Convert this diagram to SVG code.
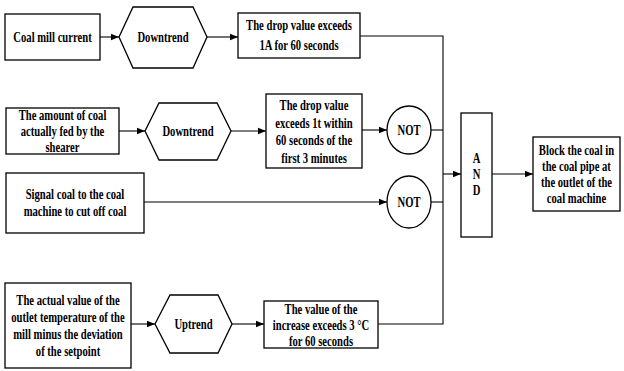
<svg xmlns="http://www.w3.org/2000/svg" width="624" height="371" viewBox="0 0 624 371">
<defs>
<style>
.b{fill:#fff;stroke:#000;stroke-width:1.3}
.c{fill:none;stroke:#000;stroke-width:1.1}
text{font-family:"Liberation Serif","Times New Roman",serif;font-weight:bold;font-size:14px;text-anchor:middle;fill:#000}
</style>
<marker id="ah" viewBox="0 0 10 10" refX="10" refY="5" markerWidth="8" markerHeight="8" markerUnits="userSpaceOnUse" orient="auto">
<path d="M0,1 L10,5 L0,9 Z" fill="#000"/>
</marker>
</defs>
<rect width="624" height="371" fill="#fff"/>
<g id="connectors">
<line class="c" x1="100" y1="37" x2="119" y2="37" marker-end="url(#ah)"/>
<line class="c" x1="207" y1="37" x2="238" y2="37" marker-end="url(#ah)"/>
<polyline class="c" points="360,36 443,36 443,324 378,324"/>
<line class="c" x1="119" y1="131" x2="145" y2="131" marker-end="url(#ah)"/>
<line class="c" x1="231" y1="131" x2="266" y2="131" marker-end="url(#ah)"/>
<line class="c" x1="362" y1="130" x2="387" y2="130" marker-end="url(#ah)"/>
<line class="c" x1="431" y1="130" x2="443" y2="130"/>
<line class="c" x1="144" y1="202" x2="387" y2="202" marker-end="url(#ah)"/>
<line class="c" x1="431" y1="202" x2="443" y2="202"/>
<line class="c" x1="131" y1="324" x2="155" y2="324" marker-end="url(#ah)"/>
<line class="c" x1="232" y1="324" x2="264" y2="324" marker-end="url(#ah)"/>
<line class="c" x1="443" y1="174" x2="461" y2="174" marker-end="url(#ah)"/>
<line class="c" x1="492" y1="174" x2="533" y2="174" marker-end="url(#ah)"/>
</g>
<g id="coal-mill-current">
<rect class="b" x="5" y="14" width="95" height="46"/>
<text transform="translate(52.5,42) scale(0.76,1)">Coal mill current</text>
</g>
<g id="downtrend-1">
<polygon class="b" points="119,37 133,7 193,7 207,37 193,68 133,68"/>
<text transform="translate(163,42) scale(0.76,1)">Downtrend</text>
</g>
<g id="drop-1a">
<rect class="b" x="238" y="13" width="122" height="45"/>
<text transform="translate(299,30) scale(0.76,1)">The drop value exceeds</text>
<text transform="translate(299,50) scale(0.76,1)">1A for 60 seconds</text>
</g>
<g id="coal-fed">
<rect class="b" x="6" y="108" width="113" height="46"/>
<text transform="translate(62.5,120) scale(0.76,1)">The amount of coal</text>
<text transform="translate(62.5,136) scale(0.76,1)">actually fed by the</text>
<text transform="translate(62.5,152) scale(0.76,1)">shearer</text>
</g>
<g id="downtrend-2">
<polygon class="b" points="145,131 159,103 217,103 231,131 217,160 159,160"/>
<text transform="translate(188,136) scale(0.76,1)">Downtrend</text>
</g>
<g id="drop-1t">
<rect class="b" x="266" y="94" width="96" height="74"/>
<text transform="translate(314,110) scale(0.76,1)">The drop value</text>
<text transform="translate(314,127.5) scale(0.76,1)">exceeds 1t within</text>
<text transform="translate(314,145) scale(0.76,1)">60 seconds of the</text>
<text transform="translate(314,162.5) scale(0.76,1)">first 3 minutes</text>
</g>
<g id="not-1">
<ellipse class="b" cx="409" cy="130" rx="22" ry="24"/>
<text transform="translate(409,135) scale(0.76,1)">NOT</text>
</g>
<g id="signal-cut-off">
<rect class="b" x="6" y="173" width="138" height="60"/>
<text transform="translate(75,199) scale(0.76,1)">Signal coal to the coal</text>
<text transform="translate(75,216) scale(0.76,1)">machine to cut off coal</text>
</g>
<g id="not-2">
<ellipse class="b" cx="409" cy="202" rx="22" ry="26"/>
<text transform="translate(409,207) scale(0.76,1)">NOT</text>
</g>
<g id="outlet-temp">
<rect class="b" x="5" y="283" width="126" height="85"/>
<text transform="translate(68,305) scale(0.76,1)">The actual value of the</text>
<text transform="translate(68,322) scale(0.76,1)">outlet temperature of the</text>
<text transform="translate(68,339) scale(0.76,1)">mill minus the deviation</text>
<text transform="translate(68,356) scale(0.76,1)">of the setpoint</text>
</g>
<g id="uptrend">
<polygon class="b" points="155,324 170,295 218,295 232,324 218,353 170,353"/>
<text transform="translate(193.5,329) scale(0.76,1)">Uptrend</text>
</g>
<g id="increase-3c">
<rect class="b" x="264" y="301" width="114" height="47"/>
<text transform="translate(321,314) scale(0.76,1)">The value of the</text>
<text transform="translate(321,330) scale(0.76,1)">increase exceeds 3 °C</text>
<text transform="translate(321,346) scale(0.76,1)">for 60 seconds</text>
</g>
<g id="and">
<rect class="b" x="461" y="113" width="31" height="124"/>
<text transform="translate(476.5,163) scale(0.76,1)">A</text>
<text transform="translate(476.5,179) scale(0.76,1)">N</text>
<text transform="translate(476.5,195) scale(0.76,1)">D</text>
</g>
<g id="block-coal">
<rect class="b" x="533" y="137" width="87" height="74"/>
<text transform="translate(576.5,155) scale(0.76,1)">Block the coal in</text>
<text transform="translate(576.5,171) scale(0.76,1)">the coal pipe at</text>
<text transform="translate(576.5,187) scale(0.76,1)">the outlet of the</text>
<text transform="translate(576.5,203) scale(0.76,1)">coal machine</text>
</g>
</svg>
